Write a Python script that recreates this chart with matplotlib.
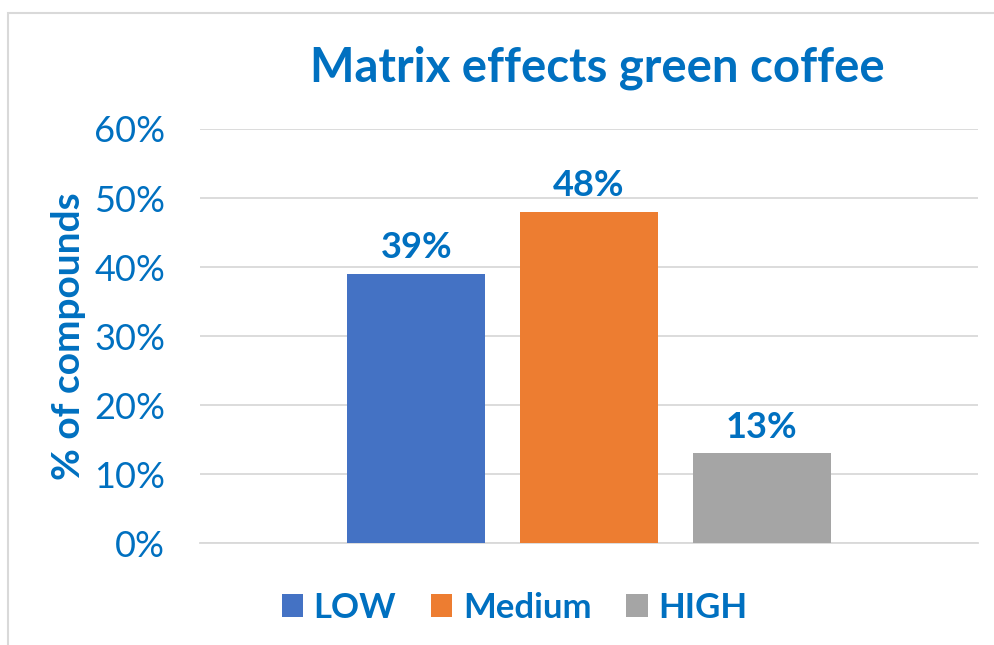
import matplotlib
matplotlib.use("Agg")
import matplotlib.pyplot as plt
from matplotlib.patches import Rectangle

# data
series = ["LOW", "Medium", "HIGH"]
values = [0.39, 0.48, 0.13]
colors = ["#4472C4", "#ED7D31", "#A5A5A5"]
yticks = [0, 0.1, 0.2, 0.3, 0.4, 0.5, 0.6]

blue = "#0070C0"
plt.rcParams["font.family"] = ["Lato", "DejaVu Sans"]

fig = plt.figure(figsize=(9.95, 6.45), dpi=100)
ax = fig.add_axes([0.201, 0.158, 0.782, 0.642])

bar_w = 0.177
step = 0.222
for i, (name, v, c) in enumerate(zip(series, values, colors)):
    x = (i - 1) * step
    ax.bar(x, v, width=bar_w, color=c, label=name, zorder=3)
    ax.text(x, v + 0.014, f"{round(v*100)}%", ha="center", va="bottom",
            fontsize=26, fontweight="bold", color=blue)

ax.set_xlim(-0.5, 0.5)
ax.set_ylim(0, 0.6)
ax.set_yticks(yticks)
ax.set_yticklabels([f"{round(t*100)}%" for t in yticks], fontsize=26, color=blue)
ax.set_xticks([])
ax.tick_params(axis="y", length=0, pad=25)
ax.grid(axis="y", color="#D9D9D9", linewidth=1.3, zorder=0)
for s in ["top", "right", "left"]:
    ax.spines[s].set_visible(False)
ax.spines["bottom"].set_color("#D9D9D9")
ax.spines["bottom"].set_linewidth(1.3)

ax.set_ylabel("% of compounds", fontsize=28, fontweight="bold", color=blue, labelpad=6)
fig.text(0.6, 0.895, "Matrix effects green coffee", ha="center", va="center",
         fontsize=34, fontweight="bold", color=blue)

leg = fig.legend(loc="center", bbox_to_anchor=(0.517, 0.058), ncol=3, frameon=False,
                 handlelength=0.62, handleheight=0.62, handletextpad=0.3, columnspacing=1.0,
                 prop={"size": 25, "weight": "bold"})
for t in leg.get_texts():
    t.set_color(blue)

# outer chart border
fig.patches.append(Rectangle((0.008, -0.05), 1.1, 1.03, transform=fig.transFigure,
                             fill=False, edgecolor="#D9D9D9", linewidth=1.5))

fig.savefig("out.png", dpi=100)
